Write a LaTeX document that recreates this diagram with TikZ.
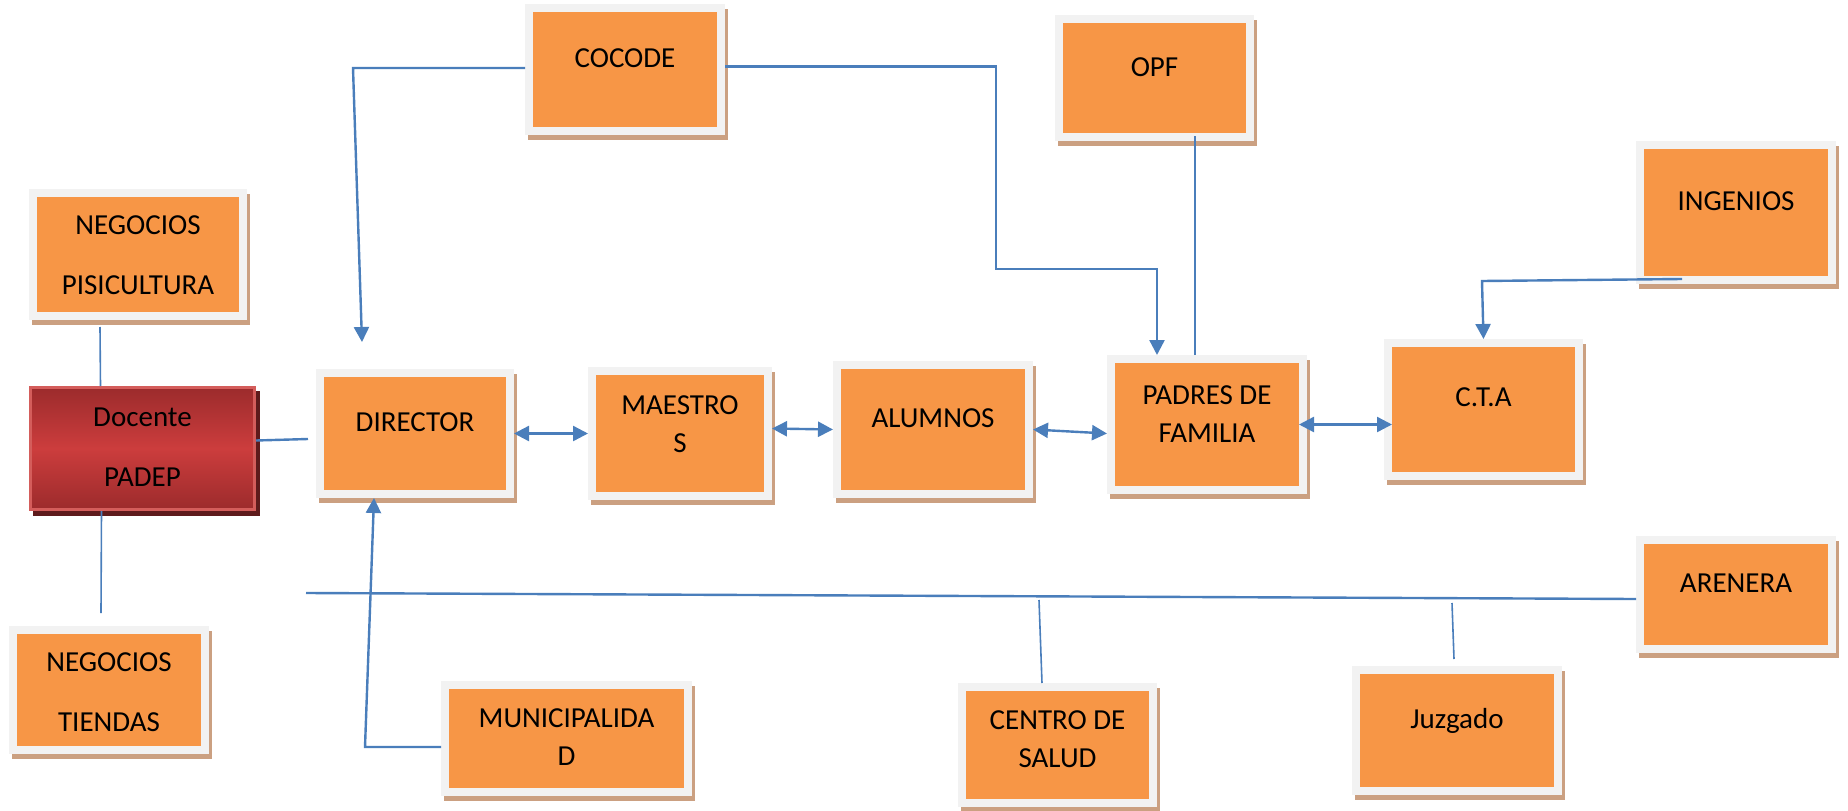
\documentclass[tikz,border=0pt]{standalone}
\usepackage{fontspec}
\setmainfont{Carlito}
\usetikzlibrary{arrows.meta}
\definecolor{boxorange}{HTML}{F79646}
\definecolor{framegray}{HTML}{F2F2F2}
\definecolor{shadowbrown}{HTML}{CBA081}
\definecolor{linkblue}{HTML}{4A7EBB}
\definecolor{docdark}{HTML}{9C2B2C}
\definecolor{docmid}{HTML}{CC3D3D}
\definecolor{docedge}{HTML}{D45D5B}
\definecolor{docshadow}{HTML}{5E1B1C}
\newcommand\orglabel[2]{\raisebox{#1}[\height][\depth]{\begin{tabular}{@{}c@{}}#2\end{tabular}}}
\begin{document}
\begin{tikzpicture}[x=1pt,y=-1pt]
\tikzstyle{every node}+=[inner sep=0pt, font=\fontsize{29}{35}\selectfont]
\tikzstyle{orgbox}=[draw=framegray, line width=8pt, fill=boxorange, preaction={draw=shadowbrown, fill=shadowbrown, line width=8pt, transform canvas={shift={(3pt,-5pt)}}}]
\tikzstyle{docbox}=[draw=docedge, line width=3pt, top color=docdark, bottom color=docdark, middle color=docmid, preaction={draw=docshadow, fill=docshadow, line width=3pt, transform canvas={shift={(4pt,-5pt)}}}]
\tikzstyle{conn}=[draw=linkblue, line width=2.4pt]
\tikzstyle{thinconn}=[draw=linkblue, line width=1.6pt]
\tikzstyle{arrowend}=[-{Triangle[length=15pt,width=15pt]}]
\tikzstyle{arrowboth}=[{Triangle[length=15pt,width=15pt]}-{Triangle[length=15pt,width=15pt]}]
\useasboundingbox (0,0) rectangle (1848,811);
\node [orgbox, minimum width=192pt, minimum height=123pt] (cocode) at (625,69.5) {\orglabel{9pt}{COCODE}};
\node [orgbox, minimum width=191pt, minimum height=118pt] (opf) at (1154.5,78) {\orglabel{9pt}{OPF}};
\node [orgbox, minimum width=192pt, minimum height=135pt] (ingenios) at (1736,212.5) {\orglabel{9pt}{INGENIOS}};
\node [orgbox, minimum width=210pt, minimum height=123pt] (pisicultura) at (138,254.5) {\orglabel{-3pt}{NEGOCIOS\\[25pt]PISICULTURA}};
\node [docbox, minimum width=224pt, minimum height=122pt] (docente) at (142.5,448.5) {\orglabel{-1pt}{Docente\\[25pt]PADEP}};
\node [orgbox, minimum width=190pt, minimum height=121pt] (director) at (415,433.5) {\orglabel{9pt}{DIRECTOR}};
\node [orgbox, minimum width=176pt, minimum height=125pt] (maestros) at (680,433.5) {\orglabel{7pt}{MAESTRO\\[3pt]S}};
\node [orgbox, minimum width=192pt, minimum height=129pt] (alumnos) at (933,429.5) {\orglabel{9pt}{ALUMNOS}};
\node [orgbox, minimum width=192pt, minimum height=131pt] (padres) at (1207,424.5) {\orglabel{8pt}{PADRES DE\\[3pt]FAMILIA}};
\node [orgbox, minimum width=191pt, minimum height=133pt] (cta) at (1483.5,409.5) {\orglabel{10pt}{C.T.A}};
\node [orgbox, minimum width=192pt, minimum height=109pt] (arenera) at (1736,594.5) {\orglabel{9pt}{ARENERA}};
\node [orgbox, minimum width=192pt, minimum height=120pt] (tiendas) at (109,690) {\orglabel{-4pt}{NEGOCIOS\\[25pt]TIENDAS}};
\node [orgbox, minimum width=243pt, minimum height=107pt] (municipalidad) at (566.5,738.5) {\orglabel{-1pt}{MUNICIPALIDA\\[3pt]D}};
\node [orgbox, minimum width=191pt, minimum height=116pt] (centro) at (1057.5,745) {\orglabel{4pt}{CENTRO DE\\[3pt]SALUD}};
\node [orgbox, minimum width=202pt, minimum height=121pt] (juzgado) at (1457,730.5) {\orglabel{9pt}{Juzgado}};
\coordinate (cocodebend) at (353,68);
\coordinate (parentbenda) at (996,66.5);
\coordinate (parentbendb) at (996,269);
\coordinate (parentbendc) at (1157,269);
\coordinate (ingeniosbend) at (1482,281);
\coordinate (munibend) at (365,747);
\coordinate (busstart) at (306,593);
\coordinate (centrotap) at (1039,600);
\coordinate (juzgadotap) at (1452,603);
\draw [conn, arrowend] ([yshift=1.5pt]cocode.west) -- (cocodebend) -- ([xshift=-53pt,yshift=27pt]director.north);
\draw [conn, arrowend] ([yshift=3pt]cocode.east) -- (parentbenda) -- (parentbendb) -- (parentbendc) -- ([xshift=-50pt]padres.north);
\draw [thinconn] ([xshift=40.5pt,yshift=5pt]opf.south) -- ([xshift=-12pt]padres.north);
\draw [conn, arrowend] ([xshift=-54pt,yshift=5pt]ingenios.south) -- (ingeniosbend) -- (cta.north);
\draw [thinconn] ([xshift=-38pt,yshift=-7pt]pisicultura.south) -- ([xshift=-42pt]docente.north);
\draw [thinconn] ([xshift=-41pt]docente.south) -- ([xshift=-8pt,yshift=13pt]tiendas.north);
\draw [conn] ([yshift=8pt]docente.east) -- ([xshift=-8pt,yshift=-5.5pt]director.west);
\draw [conn, arrowend] ([yshift=-8.5pt]municipalidad.west) -- (munibend) -- ([xshift=-41pt]director.south);
\draw [conn] (busstart) -- ([yshift=-4.5pt]arenera.west);
\draw [thinconn] (centrotap) -- ([xshift=-15.5pt]centro.north);
\draw [thinconn] (juzgadotap) -- ([xshift=-3pt,yshift=7pt]juzgado.north);
\draw [conn, arrowboth] (director.east) -- (maestros.west);
\draw [conn, arrowboth] ([yshift=5pt]maestros.east) -- (alumnos.west);
\draw [conn, arrowboth] (alumnos.east) -- ([yshift=-9pt]padres.west);
\draw [conn, arrowboth] ([xshift=-8pt]padres.east) -- ([xshift=8pt,yshift=-15pt]cta.west);
\end{tikzpicture}
\end{document}
